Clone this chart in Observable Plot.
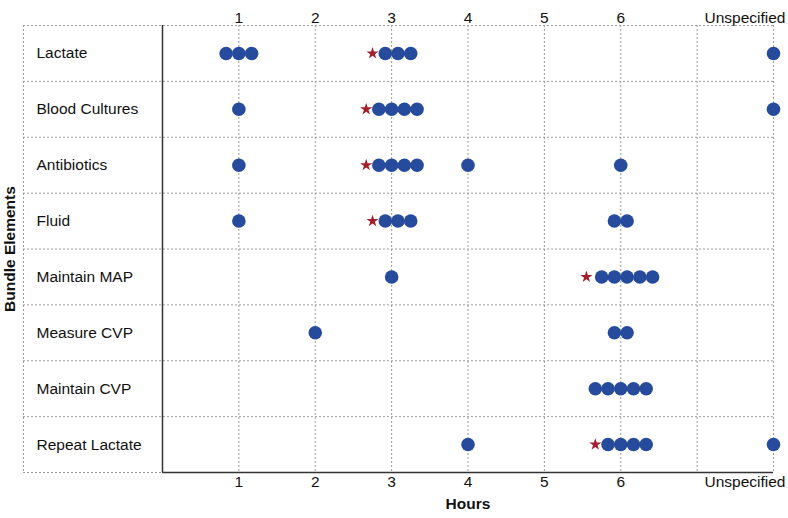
<!DOCTYPE html>
<html>
<head>
<meta charset="utf-8">
<script src="https://cdn.jsdelivr.net/npm/d3@7"></script>
<script src="https://cdn.jsdelivr.net/npm/@observablehq/plot@0.6"></script>
<style>
  html, body { margin: 0; padding: 0; background: #fff; }
  #chart { width: 788px; height: 518px; }
</style>
</head>
<body>
<div id="chart"></div>
<script>
// ---- data ----
const rows = ["Lactate", "Blood Cultures", "Antibiotics", "Fluid", "Maintain MAP", "Measure CVP", "Maintain CVP", "Repeat Lactate"];
// hours at which each reported point is drawn (8 = "Unspecified")
const dotHours = [
  [0.833, 1, 1.167, 2.917, 3.083, 3.25, 8],
  [1, 2.833, 3, 3.167, 3.333, 8],
  [1, 2.833, 3, 3.167, 3.333, 4, 6],
  [1, 2.917, 3.083, 3.25, 5.917, 6.083],
  [3, 5.75, 5.917, 6.083, 6.25, 6.417],
  [2, 5.917, 6.083],
  [5.667, 5.833, 6, 6.167, 6.333],
  [4, 5.833, 6, 6.167, 6.333, 8]
];
const starHours = [2.75, 2.667, 2.667, 2.75, 5.55, null, null, 5.667];
const hourTicks = [1, 2, 3, 4, 5, 6];
const gridHours = [1, 2, 3, 4, 5, 6, 7];
const unspecHour = 8;
const unspecLabel = "Unspecified";
const xLabel = "Hours";
const yLabel = "Bundle Elements";

// ---- build tables ----
const dots = rows.flatMap((r, i) => dotHours[i].map(h => ({row: i + 0.5, hour: h})));
const stars = rows.map((r, i) => ({row: i + 0.5, hour: starHours[i]})).filter(d => d.hour != null);
const labelStart = -1.82; // left edge of label column, in hour units

const dotted = {stroke: "#9c9c9c", strokeWidth: 1, strokeDasharray: "2,2"};
const font = "'Liberation Sans', Arial, Helvetica, sans-serif";

const chart = Plot.plot({
  width: 788,
  height: 518,
  marginLeft: 23,
  marginRight: 15,
  marginTop: 25,
  marginBottom: 46,
  x: {domain: [labelStart, unspecHour], axis: null},
  y: {domain: [0, rows.length], reverse: true, axis: null},
  style: {fontFamily: font, fontSize: "15.5px", color: "#111", background: "#fff"},
  marks: [
    Plot.ruleX([labelStart, ...gridHours, unspecHour], dotted),
    Plot.ruleY(d3.range(rows.length + 1), {y: d => d, x1: labelStart, x2: unspecHour, ...dotted}),
    Plot.ruleX([0], {stroke: "#333", strokeWidth: 1.5}),
    Plot.ruleY([rows.length], {x1: 0, x2: unspecHour, stroke: "#333", strokeWidth: 1.5}),
    Plot.text(rows, {x: labelStart, y: (d, i) => i + 0.5, text: d => d, textAnchor: "start", dx: 13, fontSize: 15.5, fill: "#111"}),
    Plot.dot(dots, {x: "hour", y: "row", r: 6.8, fill: "#264b9c", stroke: "none"}),
    Plot.dot(stars, {x: "hour", y: "row", r: 3.8, symbol: "star", fill: "#a31f2e", stroke: "none"}),
    Plot.text(hourTicks, {x: d => d, frameAnchor: "top", dy: -14, text: d => String(d), fontSize: 15.5, fill: "#111"}),
    Plot.text(hourTicks, {x: d => d, frameAnchor: "bottom", dy: 14.5, text: d => String(d), fontSize: 15.5, fill: "#111"}),
    Plot.text([unspecLabel], {x: unspecHour, frameAnchor: "top", dy: -14, dx: 12, textAnchor: "end", text: d => d, fontSize: 15.5, fill: "#111"}),
    Plot.text([unspecLabel], {x: unspecHour, frameAnchor: "bottom", dy: 14.5, dx: 12, textAnchor: "end", text: d => d, fontSize: 15.5, fill: "#111"}),
    Plot.text([xLabel], {x: unspecHour / 2, frameAnchor: "bottom", dy: 36, text: d => d, fontWeight: "bold", fontSize: 15.5, fill: "#111"}),
    Plot.text([yLabel], {y: rows.length / 2, frameAnchor: "left", textAnchor: "middle", dx: -13, rotate: -90, text: d => d, fontWeight: "bold", fontSize: 15.5, fill: "#111"})
  ]
});
document.getElementById("chart").appendChild(chart);
</script>
</body>
</html>
